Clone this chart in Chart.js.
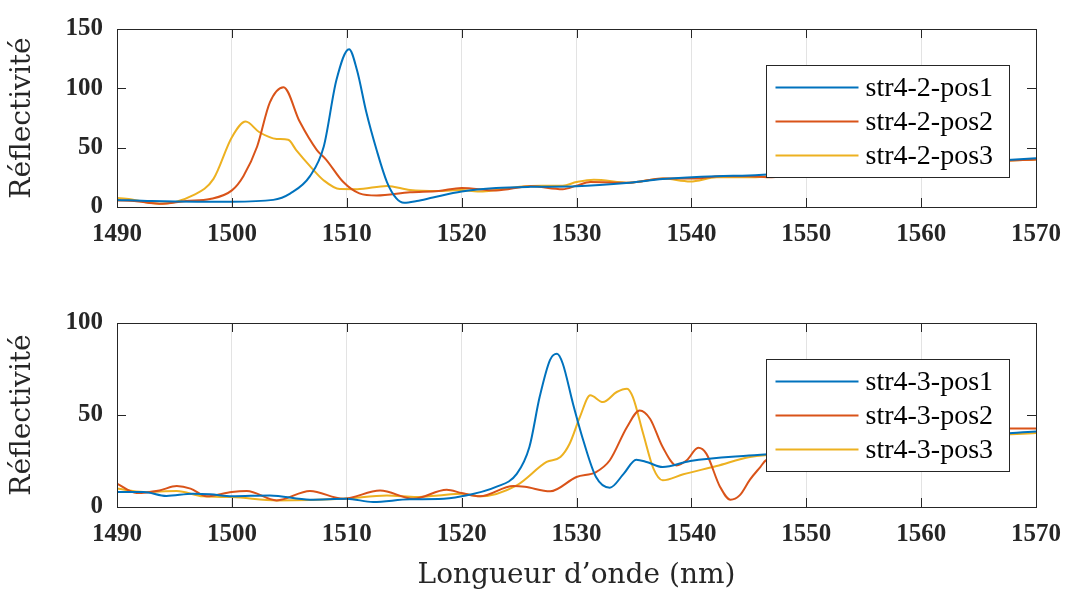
<!DOCTYPE html>
<html>
<head>
<meta charset="utf-8">
<script src="https://cdn.jsdelivr.net/npm/chart.js@4/dist/chart.umd.min.js"></script>
<style>
  body { margin: 0; background: #fff; }
  canvas { position: absolute; left: 0; }
</style>
</head>
<body>
<canvas id="topChart" width="1067" height="270" style="top:0px"></canvas>
<canvas id="bottomChart" width="1067" height="327" style="top:270px"></canvas>
<script>
// Data (wavelength in nm, reflectivity)
var topLabels = ["str4-2-pos1", "str4-2-pos2", "str4-2-pos3"];
var bottomLabels = ["str4-3-pos1", "str4-3-pos2", "str4-3-pos3"];

var top1X = [1490, 1493, 1497, 1500, 1503.6, 1505.1, 1506.8, 1508, 1509.1, 1510.2, 1510.9, 1511.7, 1512.6, 1513.5, 1514.3, 1515, 1516.1, 1517.5, 1520, 1523, 1526, 1530, 1534.6, 1537.5, 1542.2, 1545, 1550, 1555, 1560, 1565, 1570];
var top1Y = [6, 5, 4.5, 4.5, 6, 11.5, 26, 51, 107, 133, 115, 80, 48, 21, 7.5, 3.5, 5, 8, 13, 16, 17, 17.5, 20.5, 23.5, 26, 26.5, 29, 31, 35, 38, 41];

var top2X = [1490, 1491.5, 1493.7, 1496, 1498.1, 1500, 1501, 1502.2, 1503.3, 1504.5, 1505.9, 1507.4, 1508.2, 1509.7, 1511.1, 1512.6, 1515.5, 1518, 1520, 1523, 1526, 1528.8, 1530, 1531.2, 1534.6, 1537.5, 1540.4, 1542.5, 1545, 1547, 1550, 1555, 1560, 1565, 1570];
var top2Y = [5.5, 5, 2.7, 5, 6.7, 14, 26, 51, 88, 101, 72, 48, 40, 21, 11.5, 9.7, 12.4, 13.5, 16, 14, 17.5, 15, 18, 21, 20.5, 24, 24, 26, 26, 25, 29, 31, 35, 38, 40];

var top3X = [1490, 1490.8, 1493.7, 1496.6, 1498.4, 1500, 1501.2, 1502.4, 1503.9, 1504.9, 1505.6, 1506.8, 1508, 1509.4, 1510.9, 1513.5, 1515.5, 1518, 1520, 1521.4, 1526, 1528.8, 1530, 1531.5, 1534.6, 1537.5, 1539.9, 1542.2, 1545, 1550, 1555, 1560, 1565, 1570];
var top3Y = [7.5, 7, 2.7, 9.7, 23.7, 58.8, 72, 63, 57.4, 56.6, 48, 34.5, 22.4, 15.1, 15, 17.8, 14.3, 13.5, 14.3, 13, 17.8, 18, 21, 23, 20.5, 24, 21.5, 25, 25, 28.5, 31, 35, 38, 40];

var bot1X = [1490, 1492.3, 1494.3, 1496.6, 1498.1, 1500, 1503.3, 1506.8, 1510, 1512.3, 1515.5, 1518, 1520, 1523, 1524.8, 1525.9, 1526.8, 1527.7, 1528.3, 1528.8, 1529.7, 1530.6, 1531.7, 1532.9, 1534.1, 1535.2, 1536.1, 1537.5, 1539.9, 1545, 1550, 1555, 1560, 1565, 1570];
var bot1Y = [8.2, 8.2, 6, 7.2, 6.9, 5.8, 6.3, 4, 4.5, 2.7, 4.2, 4.3, 5.8, 10.9, 18, 32.6, 60, 80, 83.3, 78, 56, 36, 16.3, 10.5, 18, 25.7, 24.5, 21.7, 25, 28, 30, 33, 36, 39, 41];

var bot2X = [1490, 1491.7, 1493.7, 1495.2, 1496.4, 1497.8, 1500, 1501.3, 1503.9, 1506.8, 1509.7, 1512.9, 1515.8, 1518.7, 1520, 1521.6, 1524.5, 1525.5, 1527.7, 1530, 1531.7, 1532.9, 1534.4, 1535.5, 1536.4, 1537.5, 1538.7, 1539.6, 1540.6, 1541.3, 1542.5, 1543.4, 1544.2, 1545.1, 1546, 1546.5, 1550, 1555, 1560, 1565, 1567.7, 1570];
var bot2Y = [12.7, 7.6, 9, 11.4, 10, 5.8, 8.2, 8.7, 3.6, 8.7, 4.5, 9, 4.5, 9.4, 7.6, 5.8, 11.4, 11, 8.5, 16.3, 19, 25.4, 43.5, 52.5, 48, 32.6, 22.6, 25.4, 32.2, 29, 10.9, 4, 6.3, 14.9, 21.7, 25.4, 29, 33, 37, 40, 42.6, 42.6];

var bot3X = [1490, 1492.3, 1495.2, 1497.5, 1500, 1503.9, 1509.7, 1513.5, 1516.1, 1518, 1520, 1521.6, 1524.8, 1527.4, 1528.6, 1529.4, 1530.3, 1531.2, 1532.3, 1533.5, 1534.4, 1534.9, 1535.8, 1536.7, 1537.5, 1539.3, 1542.2, 1545.1, 1550, 1555, 1560, 1565, 1570];
var bot3Y = [10, 8.2, 8.7, 5.8, 5.4, 3.6, 4.5, 6.3, 5.4, 6.3, 7.2, 5.8, 11.8, 24.5, 27.2, 34.4, 49, 60.7, 57, 62.5, 64.3, 59.8, 39.9, 20.8, 14.5, 17.8, 22.3, 27.2, 29.5, 32.5, 35.5, 38.5, 40.2];

var colors = ["#0072BD", "#D95319", "#EDB120"];
var axisColor = "#262626";

function points(xs, ys) {
	return xs.map(function (x, i) { return { x: x, y: ys[i] }; });
}

function makeDataset(label, xs, ys, i) {
	return {
		label: label,
		data: points(xs, ys),
		borderColor: colors[i],
		borderWidth: 2,
		pointRadius: 0,
		fill: false,
		cubicInterpolationMode: "monotone"
	};
}

// MATLAB-style box, inward ticks and legend
var boxPlugin = {
	id: "matlabBox",
	afterDraw: function (chart) {
		var ctx = chart.ctx;
		var a = chart.chartArea;
		var xs = chart.scales.x, ys = chart.scales.y;
		ctx.save();
		ctx.strokeStyle = axisColor;
		ctx.lineWidth = 1;
		ctx.beginPath();
		xs.ticks.forEach(function (t) {
			var px = Math.round(xs.getPixelForValue(t.value)) + 0.5;
			ctx.moveTo(px, a.bottom); ctx.lineTo(px, a.bottom - 9);
			ctx.moveTo(px, a.top); ctx.lineTo(px, a.top + 9);
		});
		ys.ticks.forEach(function (t) {
			var py = Math.round(ys.getPixelForValue(t.value)) + 0.5;
			ctx.moveTo(a.left, py); ctx.lineTo(a.left + 9, py);
			ctx.moveTo(a.right, py); ctx.lineTo(a.right - 9, py);
		});
		ctx.stroke();
		ctx.strokeRect(Math.round(a.left) + 0.5, Math.round(a.top) + 0.5, Math.round(a.right - a.left), Math.round(a.bottom - a.top));

		// legend
		var bw = 243, bh = 112;
		var bx = Math.round(a.right - 27 - bw) + 0.5, by = Math.round(a.top + 36) + 0.5;
		ctx.fillStyle = "#fff";
		ctx.fillRect(bx, by, bw, bh);
		ctx.strokeRect(bx, by, bw, bh);
		ctx.font = "28px 'Liberation Serif'";
		ctx.textBaseline = "middle";
		ctx.textAlign = "left";
		chart.data.datasets.forEach(function (ds, i) {
			var cy = by + 22 + i * 34;
			ctx.strokeStyle = ds.borderColor;
			ctx.lineWidth = 2;
			ctx.beginPath();
			ctx.moveTo(bx + 9, cy); ctx.lineTo(bx + 92, cy);
			ctx.stroke();
			ctx.fillStyle = "#000";
			ctx.fillText(ds.label, bx + 99, cy + 1);
		});
		ctx.restore();
	}
};

function plain(v) { return String(v); }

function makeChart(id, labels, series, yMax, xTitle, padTop, chartBottom) {
	var canvas = document.getElementById(id);
	var datasets = series.map(function (s, i) { return makeDataset(labels[i], s[0], s[1], i); });
	return new Chart(canvas.getContext("2d"), {
		type: "line",
		data: { datasets: datasets },
		plugins: [boxPlugin],
		options: {
			responsive: false,
			animation: false,
			devicePixelRatio: 1,
			layout: { padding: { top: padTop, right: 31, left: 0, bottom: 0 } },
			plugins: { legend: { display: false }, tooltip: { enabled: false } },
			scales: {
				x: {
					type: "linear",
					min: 1490, max: 1570,
					border: { display: false },
					grid: { color: "#e3e3e3", lineWidth: 1, drawTicks: false },
					ticks: {
						stepSize: 10, padding: 13, color: axisColor, callback: plain,
						font: { family: "'Liberation Serif'", size: 25, weight: "bold" },
						maxRotation: 0
					},
					title: {
						display: !!xTitle, text: xTitle || "", color: axisColor,
						font: { family: "'DejaVu Serif'", size: 28 },
						padding: { top: 0, bottom: 4 }
					},
					afterFit: function (scale) {
						scale.height = canvas.height - chartBottom;
						scale.paddingLeft = 0;
						scale.paddingRight = 0;
					}
				},
				y: {
					min: 0, max: yMax,
					border: { display: false },
					grid: { display: false, drawTicks: false },
					ticks: {
						stepSize: 50, padding: 14, color: axisColor, callback: plain,
						font: { family: "'Liberation Serif'", size: 25, weight: "bold" }
					},
					title: {
						display: true, text: "Réflectivité", color: axisColor,
						font: { family: "'DejaVu Serif'", size: 28 },
						padding: { top: 6, bottom: 0 }
					},
					afterFit: function (scale) { scale.width = 117; }
				}
			}
		}
	});
}

makeChart("topChart", topLabels, [[top1X, top1Y], [top2X, top2Y], [top3X, top3Y]], 150, null, 23, 207);
makeChart("bottomChart", bottomLabels, [[bot1X, bot1Y], [bot2X, bot2Y], [bot3X, bot3Y]], 100, "Longueur d’onde (nm)", 53, 237);
</script>
</body>
</html>
